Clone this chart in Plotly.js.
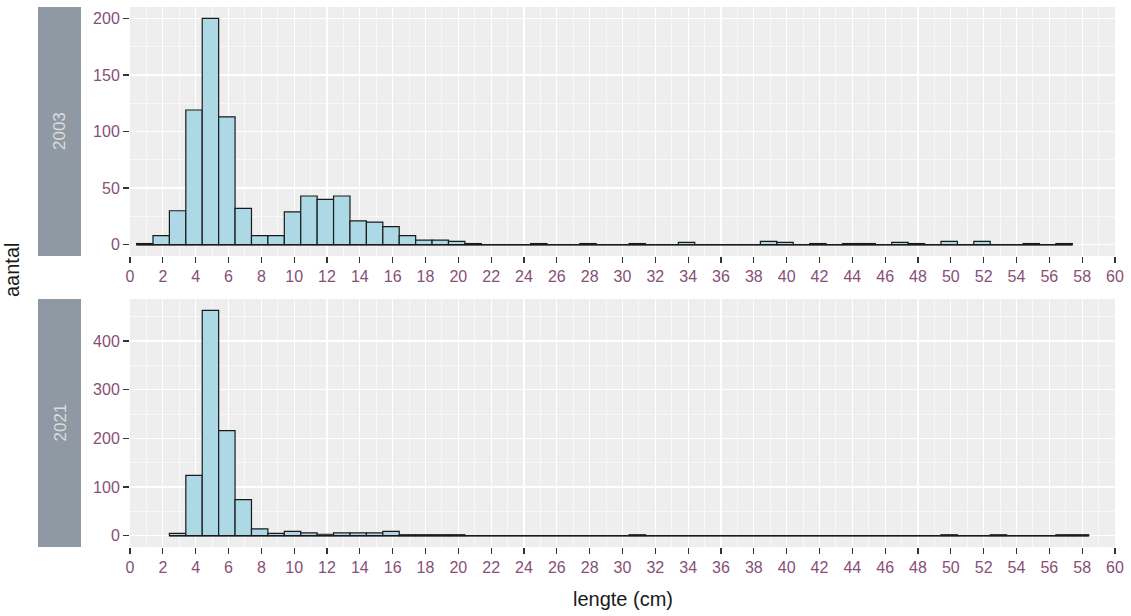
<!DOCTYPE html>
<html>
<head>
<meta charset="utf-8">
<script src="https://cdn.plot.ly/plotly-3.0.1.min.js"></script>
<style>
html,body{margin:0;padding:0;background:#fff;}
#chart{width:1131px;height:616px;}
</style>
</head>
<body>
<div id="chart"></div>
<script>
// length classes (bin centres, cm)
const lengte = [0.9,1.9,2.9,3.9,4.9,5.9,6.9,7.9,8.9,9.9,10.9,11.9,12.9,13.9,14.9,15.9,16.9,17.9,18.9,19.9,
  20.9,21.9,22.9,23.9,24.9,25.9,26.9,27.9,28.9,29.9,30.9,31.9,32.9,33.9,34.9,35.9,36.9,37.9,38.9,39.9,
  40.9,41.9,42.9,43.9,44.9,45.9,46.9,47.9,48.9,49.9,50.9,51.9,52.9,53.9,54.9,55.9,56.9,57.9];
// counts per length class (null = outside the drawn range)
const aantal2003 = [1,8,30,119,200,113,32,8,8,29,43,40,43,21,20,16,8,4,4,3,
  1,0,0,0,1,0,0,1,0,0,1,0,0,2,0,0,0,0,3,2,
  0,1,0,1,1,0,2,1,0,3,0,3,0,0,1,0,1,null];
const aantal2021 = [null,null,5,124,463,216,74,14,5,9,6,3,6,6,6,9,2,2,2,2,
  0,0,0,0,0,0,0,0,0,0,2,0,0,0,0,0,0,0,0,0,
  0,0,0,0,0,0,0,0,0,2,0,0,2,0,0,0,2,2];
const jaren = ['2003','2021'];

const font = 'Liberation Sans, Arial, sans-serif';
const tickFont = {family: font, size: 16, color: '#874f78'};
const barColor = '#ADD8E6';
const lineColor = '#1a1a1a';

function extent(vals){
  let lo = null, hi = null;
  vals.forEach((v,i)=>{ if(v!==null){ if(lo===null) lo=i; hi=i; } });
  return [lengte[lo]-0.5, lengte[hi]+0.5];
}

function barTrace(vals, xa, ya){
  return {type:'bar', x: lengte, y: vals, width: 1, xaxis: xa, yaxis: ya,
    marker:{color: barColor, line:{color: lineColor, width: 1.2}}, hoverinfo:'x+y', showlegend:false};
}
function baseTrace(vals, xa, ya){
  const e = extent(vals);
  return {type:'scatter', mode:'lines', x: e, y:[0,0], xaxis: xa, yaxis: ya,
    line:{color: lineColor, width: 1.4}, hoverinfo:'skip', showlegend:false};
}

const data = [
  barTrace(aantal2003,'x','y'), baseTrace(aantal2003,'x','y'),
  barTrace(aantal2021,'x2','y2'), baseTrace(aantal2021,'x2','y2')
];

const W = 1131, H = 616;
const mL = 130, mR = 16, mT = 7, mB = 69;
const pw = W - mL - mR, ph = H - mT - mB;
const px2x = p => (p - mL) / pw;
const px2y = p => (H - mB - p) / ph;

const topDom = [px2y(256), 1];
const botDom = [0, px2y(299)];

function xax(anchor){
  return {anchor: anchor, domain:[0,1], range:[0,60], tickmode:'linear', tick0:0, dtick:2,
    ticks:'outside', ticklen:6, tickwidth:1.3, tickcolor:'#333', tickfont: tickFont,
    showgrid:true, gridcolor:'#ffffff', gridwidth:1.3, zeroline:false, showline:false,
    minor:{dtick:1, showgrid:true, gridcolor:'#ffffff', gridwidth:0.6}};
}
function yax(anchor, dom, rng, dt){
  return {anchor: anchor, domain: dom, range: rng, tickmode:'linear', tick0:0, dtick: dt,
    ticks:'outside', ticklen:6, tickwidth:1.3, tickcolor:'#333', tickfont: tickFont,
    showgrid:true, gridcolor:'#ffffff', gridwidth:1.3, zeroline:false, showline:false,
    minor:{dtick: dt/2, showgrid:true, gridcolor:'#ffffff', gridwidth:0.6}};
}

const stripX0 = px2x(38), stripX1 = px2x(81);
const layout = {
  width: W, height: H,
  margin:{l:mL, r:mR, t:mT, b:mB, pad:0},
  paper_bgcolor:'#ffffff', plot_bgcolor:'#EEEEEE',
  showlegend:false, bargap:0,
  xaxis: xax('y'), yaxis: yax('x', topDom, [-10,210], 50),
  xaxis2: xax('y2'), yaxis2: yax('x2', botDom, [-23.15,486.2], 100),
  shapes:[
    {type:'rect', xref:'paper', yref:'paper', x0:stripX0, x1:stripX1, y0:topDom[0], y1:topDom[1], fillcolor:'#8E99A3', line:{width:0}, layer:'below'},
    {type:'rect', xref:'paper', yref:'paper', x0:stripX0, x1:stripX1, y0:botDom[0], y1:botDom[1], fillcolor:'#8E99A3', line:{width:0}, layer:'below'}
  ],
  annotations:[
    {text: jaren[0], xref:'paper', yref:'paper', x:(stripX0+stripX1)/2, y:(topDom[0]+topDom[1])/2, textangle:-90, showarrow:false, font:{family:font, size:17, color:'#DDDDDD'}, xanchor:'center', yanchor:'middle'},
    {text: jaren[1], xref:'paper', yref:'paper', x:(stripX0+stripX1)/2, y:(botDom[0]+botDom[1])/2, textangle:-90, showarrow:false, font:{family:font, size:17, color:'#DDDDDD'}, xanchor:'center', yanchor:'middle'},
    {text:'aantal', xref:'paper', yref:'paper', x:px2x(12), y:px2y(270), textangle:-90, showarrow:false, font:{family:font, size:20, color:'#1a1a1a'}, xanchor:'center', yanchor:'middle'},
    {text:'lengte (cm)', xref:'paper', yref:'paper', x:0.5, y:px2y(599), showarrow:false, font:{family:font, size:20, color:'#1a1a1a'}, xanchor:'center', yanchor:'middle'}
  ]
};

Plotly.newPlot('chart', data, layout, {displayModeBar:false, staticPlot:true});
</script>
</body>
</html>
